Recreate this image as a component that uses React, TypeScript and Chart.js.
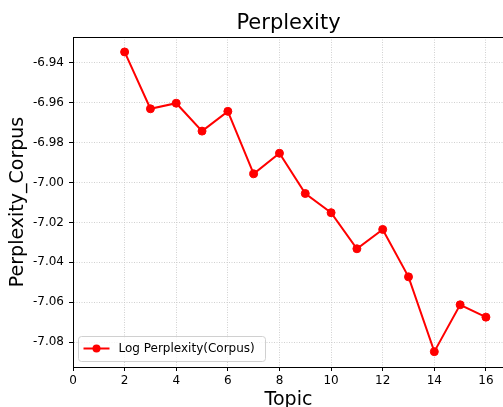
import { useEffect, useRef } from "react";
import { Chart, registerables } from "chart.js";

Chart.register(...registerables);

const chartTitle = "Perplexity";
const xTitle = "Topic";
const yTitle = "Perplexity_Corpus";
const seriesLabel = "Log Perplexity(Corpus)";

const topics = [2, 3, 4, 5, 6, 7, 8, 9, 10, 11, 12, 13, 14, 15, 16];
const logPerplexity = [
  -6.9345, -6.963, -6.9602, -6.9742, -6.9643, -6.9956, -6.9853, -7.0055,
  -7.0151, -7.0332, -7.0235, -7.0473, -7.0848, -7.0613, -7.0675,
];
const xTicks = [0, 2, 4, 6, 8, 10, 12, 14, 16];
const yTicks = [-7.08, -7.06, -7.04, -7.02, -7.0, -6.98, -6.96, -6.94];
const xRange = [0, 16.7];
const yRange = [-7.0925, -6.927];

const FONT = '"DejaVu Sans", sans-serif';

const decor = {
  id: "decor",
  afterDraw(chart: any) {
    const { ctx, chartArea: a } = chart;
    ctx.save();
    // top spine
    ctx.strokeStyle = "#000";
    ctx.lineWidth = 1;
    ctx.setLineDash([]);
    ctx.beginPath();
    ctx.moveTo(a.left, Math.round(a.top) + 0.5);
    ctx.lineTo(a.right, Math.round(a.top) + 0.5);
    ctx.stroke();
    // title
    ctx.fillStyle = "#000";
    ctx.font = `21px ${FONT}`;
    ctx.textAlign = "center";
    ctx.textBaseline = "alphabetic";
    ctx.fillText(chartTitle, (a.left + a.right) / 2, 29);
    // legend
    const ds = chart.data.datasets[0];
    const bx = a.left + 5.5;
    const by = a.bottom - 30.5;
    const bw = 187;
    const bh = 25;
    ctx.beginPath();
    ctx.roundRect(bx, by, bw, bh, 3);
    ctx.fillStyle = "rgba(255,255,255,0.8)";
    ctx.fill();
    ctx.strokeStyle = "#d0d0d0";
    ctx.lineWidth = 1;
    ctx.stroke();
    const ly = by + 12;
    ctx.strokeStyle = ds.borderColor;
    ctx.lineWidth = 2;
    ctx.beginPath();
    ctx.moveTo(bx + 5, ly);
    ctx.lineTo(bx + 31, ly);
    ctx.stroke();
    ctx.fillStyle = ds.borderColor;
    ctx.beginPath();
    ctx.arc(bx + 18, ly, 4, 0, Math.PI * 2);
    ctx.fill();
    ctx.fillStyle = "#000";
    ctx.font = `12px ${FONT}`;
    ctx.textAlign = "left";
    ctx.textBaseline = "middle";
    ctx.fillText(ds.label, bx + 40, ly + 0.5);
    ctx.restore();
  },
};

export default function App() {
  const ref = useRef<HTMLCanvasElement>(null);
  useEffect(() => {
    if (!ref.current) return;
    const chart = new Chart(ref.current, {
      type: "line",
      data: {
        datasets: [
          {
            label: seriesLabel,
            data: topics.map((t, i) => ({ x: t, y: logPerplexity[i] })),
            borderColor: "#ff0000",
            backgroundColor: "#ff0000",
            borderWidth: 2,
            pointRadius: 4,
            pointBorderWidth: 1,
            pointBackgroundColor: "#ff0000",
            pointBorderColor: "#ff0000",
            tension: 0,
            fill: false,
          },
        ],
      },
      options: {
        animation: false,
        responsive: false,
        devicePixelRatio: 1,
        layout: { padding: { left: 0, right: 6, top: 37, bottom: 0 } },
        plugins: {
          legend: { display: false },
          title: { display: false },
          tooltip: { enabled: false },
        },
        scales: {
          x: {
            type: "linear",
            min: xRange[0],
            max: xRange[1],
            afterBuildTicks: (s: any) => {
              s.ticks = xTicks.map((v) => ({ value: v }));
            },
            afterFit: (s: any) => {
              s.height = 40;
            },
            ticks: {
              color: "#000",
              font: { family: FONT, size: 12 },
              padding: 3,
              maxRotation: 0,
              callback: (v: any) => String(v),
            },
            grid: {
              color: "#c4c4c4",
              lineWidth: 0.8,
              tickColor: "#000",
              tickLength: 4,
              tickWidth: 1,
            },
            border: { display: true, color: "#000", width: 1, dash: [1, 1.5] },
            title: {
              display: true,
              text: xTitle,
              color: "#000",
              font: { family: FONT, size: 19 },
              padding: { top: 0, bottom: -4 },
            },
          },
          y: {
            type: "linear",
            min: yRange[0],
            max: yRange[1],
            afterBuildTicks: (s: any) => {
              s.ticks = yTicks.map((v) => ({ value: v }));
            },
            afterFit: (s: any) => {
              s.width = 73;
            },
            ticks: {
              color: "#000",
              font: { family: FONT, size: 12 },
              padding: 5,
              callback: (v: any) => Number(v).toFixed(2),
            },
            grid: {
              color: "#c4c4c4",
              lineWidth: 0.8,
              tickColor: "#000",
              tickLength: 4,
              tickWidth: 1,
            },
            border: { display: true, color: "#000", width: 1, dash: [1, 1.5] },
            title: {
              display: true,
              text: yTitle,
              color: "#000",
              font: { family: FONT, size: 19 },
              padding: { top: 7, bottom: 0 },
            },
          },
        },
      },
      plugins: [decor],
    });
    return () => chart.destroy();
  }, []);
  return (
    <div
      style={{
        position: "fixed",
        left: 0,
        top: 0,
        width: 503,
        height: 407,
        overflow: "hidden",
        background: "#fff",
      }}
    >
      <canvas ref={ref} width={510} height={407} style={{ display: "block" }} />
    </div>
  );
}
